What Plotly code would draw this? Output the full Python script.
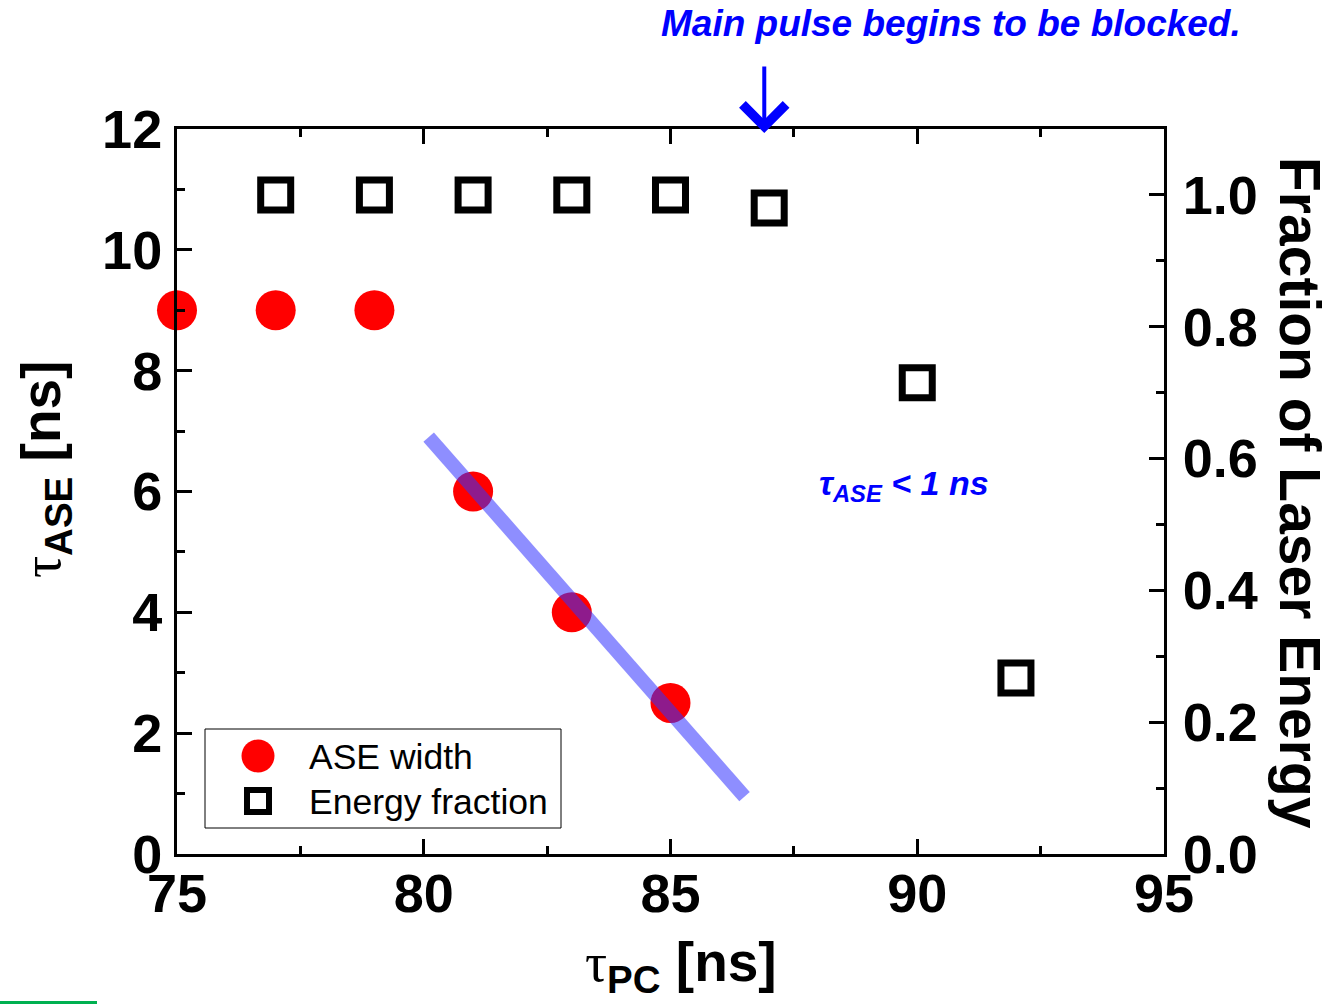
import plotly.graph_objects as go

# Pockels-cell delay scan: ASE width and transmitted energy fraction
tau_pc_ase = [75, 77, 79, 81, 83, 85]
ase_width = [9, 9, 9, 6, 4, 2.5]

tau_pc_energy = [77, 79, 81, 83, 85, 87, 90, 92]
energy_fraction = [1.0, 1.0, 1.0, 1.0, 1.0, 0.98, 0.715, 0.267]

# linear trend through the falling ASE points
fit_x = [80.1, 86.5]
fit_y = [6.9, 0.95]

# delay at which the main pulse starts to be cut
blocking_onset = 86.9

x_ticks = [75, 80, 85, 90, 95]
y_ticks = [0, 2, 4, 6, 8, 10, 12]
y2_ticks = [0.0, 0.2, 0.4, 0.6, 0.8, 1.0]

SANS = "Liberation Sans, Arial, sans-serif"
BLUE = "#0000FF"

W, H = 1332, 1004
L, R, T, B = 177, 168, 129, 150
PW, PH = W - L - R, H - T - B


def px(xp):
    return (xp - L) / PW


def py(yp):
    return (H - B - yp) / PH


fig = go.Figure()

fig.add_trace(go.Scatter(
    x=tau_pc_ase, y=ase_width, mode="markers", name="ASE width",
    marker=dict(symbol="circle", size=40, color="#FF0000", line=dict(width=0)),
    cliponaxis=False, showlegend=False,
))
fig.add_trace(go.Scatter(
    x=fit_x, y=fit_y, mode="lines",
    line=dict(color="rgba(50,50,255,0.55)", width=14),
    showlegend=False, hoverinfo="skip",
))
fig.add_trace(go.Scatter(
    x=tau_pc_energy, y=energy_fraction, mode="markers", name="Energy fraction",
    marker=dict(symbol="square", size=30, color="white",
                line=dict(width=7, color="black")),
    yaxis="y2", cliponaxis=False, showlegend=False,
))

tick_font = dict(family=SANS, size=54, color="black", weight="bold")

fig.update_layout(
    width=W, height=H,
    margin=dict(l=L, r=R, t=T, b=B),
    paper_bgcolor="white", plot_bgcolor="white",
    xaxis=dict(
        range=[75, 95], tickvals=x_ticks, ticktext=[str(v) for v in x_ticks],
        ticks="inside", ticklen=15, tickwidth=2.5, tickcolor="black",
        minor=dict(dtick=2.5, ticks="inside", ticklen=8, tickwidth=2.5,
                   tickcolor="black"),
        showline=True, linewidth=3, linecolor="black", mirror="ticks",
        showgrid=False, zeroline=False, tickfont=tick_font,
        ticklabelstandoff=-10,
    ),
    yaxis=dict(
        range=[0, 12], tickvals=y_ticks, ticktext=[str(v) for v in y_ticks],
        ticks="inside", ticklen=15, tickwidth=2.5, tickcolor="black",
        minor=dict(dtick=1, ticks="inside", ticklen=8, tickwidth=2.5,
                   tickcolor="black"),
        showline=True, linewidth=3, linecolor="black",
        showgrid=False, zeroline=False, tickfont=tick_font,
        ticklabelstandoff=1,
    ),
    yaxis2=dict(
        range=[0, 1.1], overlaying="y", side="right",
        tickvals=y2_ticks, ticktext=[f"{v:.1f}" for v in y2_ticks],
        ticks="inside", ticklen=15, tickwidth=2.5, tickcolor="black",
        minor=dict(dtick=0.1, ticks="inside", ticklen=8, tickwidth=2.5,
                   tickcolor="black"),
        showline=True, linewidth=3, linecolor="black",
        showgrid=False, zeroline=False, tickfont=tick_font,
        ticklabelstandoff=5,
    ),
)

annotations = []

# axis titles
annotations.append(dict(
    text="<span style='font-family:Liberation Serif;font-weight:normal'>τ</span>"
         "<sub>ASE</sub> [ns]",
    xref="paper", yref="paper", x=px(45), y=py(470), textangle=-90,
    showarrow=False, xanchor="center", yanchor="middle",
    font=dict(family=SANS, size=55, color="black", weight="bold"),
))
annotations.append(dict(
    text="<span style='font-family:Liberation Serif;font-weight:normal'>τ</span>"
         "<sub>PC</sub> [ns]",
    xref="paper", yref="paper", x=px(681), y=py(966),
    showarrow=False, xanchor="center", yanchor="middle",
    font=dict(family=SANS, size=55, color="black", weight="bold"),
))
annotations.append(dict(
    text="Fraction of Laser Energy",
    xref="paper", yref="paper", x=px(1300), y=py(493), textangle=90,
    showarrow=False, xanchor="center", yanchor="middle",
    font=dict(family=SANS, size=57, color="black", weight="bold"),
))

# blocking-onset note and arrow
annotations.append(dict(
    text="Main pulse begins to be blocked.",
    xref="paper", yref="paper", x=px(951), y=py(23),
    showarrow=False, xanchor="center", yanchor="middle",
    font=dict(family=SANS, size=37, color=BLUE, weight="bold", style="italic"),
))
annotations.append(dict(
    text="", xref="x", yref="paper", x=blocking_onset, y=py(133),
    showarrow=True, ax=0, ay=-68, axref="pixel", ayref="pixel",
    arrowhead=4, arrowsize=2.1, arrowwidth=4, arrowcolor=BLUE,
))
annotations.append(dict(
    text="τ<sub>ASE</sub> &lt; 1 ns",
    xref="paper", yref="paper", x=px(904), y=py(485),
    showarrow=False, xanchor="center", yanchor="middle",
    font=dict(family=SANS, size=34, color=BLUE, weight="bold", style="italic"),
))

# legend entries
annotations.append(dict(
    text="ASE width", xref="paper", yref="paper", x=px(307), y=py(757),
    showarrow=False, xanchor="left", yanchor="middle",
    font=dict(family=SANS, size=35.5, color="black"),
))
annotations.append(dict(
    text="Energy fraction", xref="paper", yref="paper", x=px(307), y=py(802),
    showarrow=False, xanchor="left", yanchor="middle",
    font=dict(family=SANS, size=35.5, color="black"),
))

shapes = [
    # legend frame
    dict(type="rect", xref="paper", yref="paper",
         x0=px(205), x1=px(561), y0=py(828), y1=py(729),
         line=dict(color="black", width=1), fillcolor="white", layer="above"),
    # legend symbols
    dict(type="circle", xref="paper", yref="paper",
         xsizemode="pixel", ysizemode="pixel",
         xanchor=px(258), yanchor=py(756), x0=-16.5, x1=16.5, y0=-16.5, y1=16.5,
         fillcolor="#FF0000", line=dict(width=0), layer="above"),
    dict(type="rect", xref="paper", yref="paper",
         xsizemode="pixel", ysizemode="pixel",
         xanchor=px(258), yanchor=py(801), x0=-11, x1=11, y0=-11, y1=11,
         fillcolor="white", line=dict(width=6, color="black"), layer="above"),
    # slide accent bar at the bottom-left corner
    dict(type="rect", xref="paper", yref="paper",
         x0=px(0), x1=px(97), y0=py(1004), y1=py(1001),
         fillcolor="#00B050", line=dict(width=0), layer="above"),
]

fig.update_layout(annotations=annotations, shapes=shapes)

fig.write_html("out.html")
